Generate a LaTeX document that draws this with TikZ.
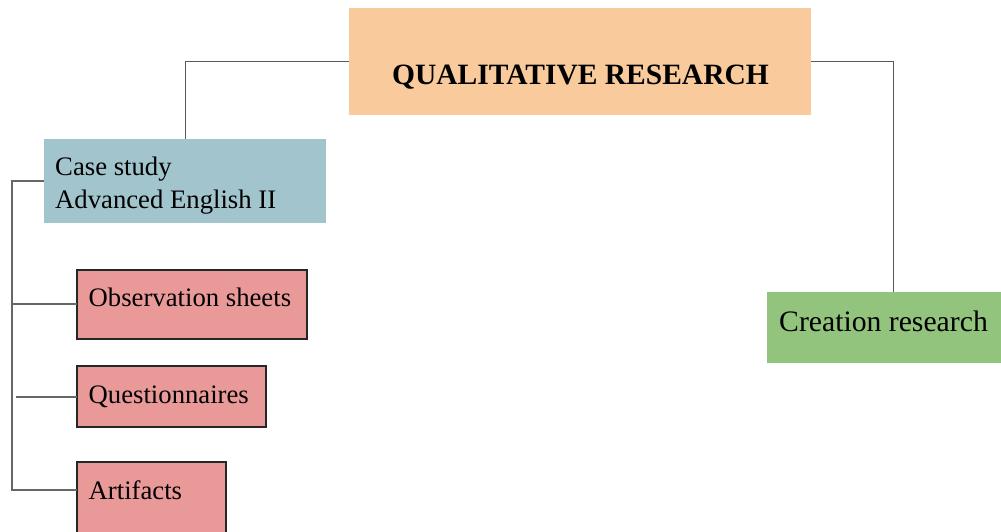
\documentclass[tikz,border=0pt]{standalone}
\usepackage{fontspec}
\setmainfont{Liberation Serif}
\definecolor{topfill}{HTML}{F9CB9C}
\definecolor{casefill}{HTML}{A2C4CD}
\definecolor{greenfill}{HTML}{93C47D}
\definecolor{redfill}{HTML}{EA9999}
\begin{document}
\begin{tikzpicture}[x=1pt,y=-1pt,
  box/.style={inner sep=0pt, outer sep=0pt, anchor=north west},
  redbox/.style={box, fill=redfill, draw=black!85, line width=2pt},
  lbl/.style={anchor=base west, inner sep=0pt, align=left, font=\fontsize{26.7}{33}\selectfont},
  conn/.style={draw=black!65, line width=1pt},
  branch/.style={draw=black!60, line width=2pt}]
\useasboundingbox (0,0) rectangle (1001,531);
% boxes
\node[box, fill=topfill, minimum width=462pt, minimum height=107pt] (top) at (349,8) {};
\node[box, fill=casefill, minimum width=282pt, minimum height=84pt] (case) at (44,138.5) {};
\node[box, fill=greenfill, minimum width=252pt, minimum height=71pt] (green) at (767,291.5) {};
\node[redbox, minimum width=230pt, minimum height=69pt] (obs) at (77,269.5) {};
\node[redbox, minimum width=189pt, minimum height=61pt] (quest) at (77,366) {};
\node[redbox, minimum width=149pt, minimum height=80pt] (art) at (77,462) {};
% texts
\node[anchor=base, inner sep=0pt, font=\fontsize{29.5}{34}\selectfont\bfseries] (toptext) at (580.5,84) {QUALITATIVE RESEARCH};
\node[lbl] (casetext) at (55,208) {Case study\\Advanced English II};
\node[lbl, font=\fontsize{29.7}{34}\selectfont] (greentext) at (779,331) {Creation research};
\node[lbl] (obstext) at (88.5,306.7) {Observation sheets};
\node[lbl] (questtext) at (88.5,403) {Questionnaires};
\node[lbl] (arttext) at (88.5,499) {Artifacts};
% connectors
\draw[conn] (top.west |- 0,61.7) -| (case.north);
\draw[conn] (top.east |- 0,61.7) -| (green.north);
\coordinate (t0) at (12,180.5);
\coordinate (t1) at (12,489.5);
\coordinate (q0) at (16,396.5);
\draw[branch] (case.west |- t0) -- (t0) -- (t1) -- (t1 -| art.west);
\draw[branch] (obs.west) -- (obs.west -| t0);
\draw[branch] (quest.west) -- (q0);
\end{tikzpicture}
\end{document}
